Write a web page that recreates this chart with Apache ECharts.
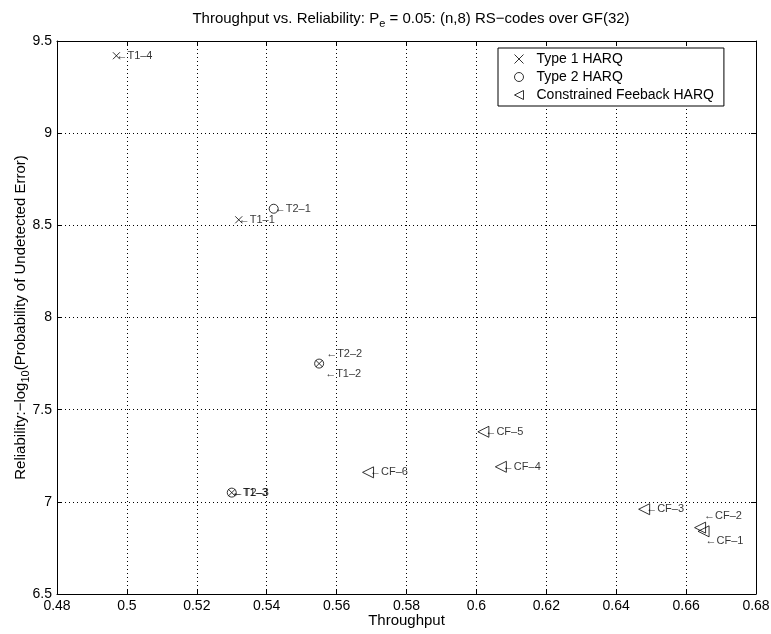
<!DOCTYPE html>
<html>
<head>
<meta charset="utf-8">
<script src="https://cdn.jsdelivr.net/npm/echarts@6/dist/echarts.min.js"></script>
<style>
  html, body { margin: 0; padding: 0; background: #fff; }
  #chart { width: 771px; height: 634px; }
</style>
</head>
<body>
<div id="chart"></div>
<script>
// values
var type1Names = ["T1-4", "T1-1", "T1-2", "T1-3"];
var type1X = [0.497, 0.532, 0.555, 0.530];
var type1Y = [9.42, 8.53, 7.75, 7.05];

var type2Names = ["T2-1", "T2-2", "T2-3"];
var type2X = [0.542, 0.555, 0.530];
var type2Y = [8.59, 7.75, 7.05];

var cfNames = ["CF-1", "CF-2", "CF-3", "CF-4", "CF-5", "CF-6"];
var cfX = [0.665, 0.664, 0.648, 0.607, 0.602, 0.569];
var cfY = [6.84, 6.86, 6.96, 7.19, 7.38, 7.16];

var xTicks = { min: 0.48, max: 0.68, step: 0.02 };
var yTicks = { min: 6.5, max: 9.5, step: 0.5 };

// labels that are pushed away from their marker
var labelOffsets = {
    "T1-2": [6, 10],
    "T2-2": [6, -10],
    "CF-1": [0, 10],
    "CF-2": [2, -12]
};

var FONT = "Liberation Sans";
var CROSS = "path://M0,0L10,10M10,0L0,10";
var LEFT_TRI = "path://M0,5L10,0L10,10Z";

function buildPoints(names, xs, ys) {
    return names.map(function(n, i) {
        var p = { name: n, value: [xs[i], ys[i]] };
        if (labelOffsets[n]) {
            p.label = { offset: labelOffsets[n] };
        }
        return p;
    });
}

function pointLabel() {
    return {
        show: true,
        position: "right",
        distance: -6,
        fontFamily: FONT,
        fontSize: 11,
        color: "#000",
        formatter: function(p) {
            return "\u2190" + p.name.replace(/-/g, "\u2013");
        }
    };
}

function scatter(name, symbol, size, points) {
    return {
        name: name,
        type: "scatter",
        symbol: symbol,
        symbolSize: size,
        itemStyle: {
            color: "none",
            borderColor: "#000",
            borderWidth: 1
        },
        label: pointLabel(),
        emphasis: { disabled: true },
        animation: false,
        data: points
    };
}

var chart = echarts.init(document.getElementById("chart"));

var axisCommon = {
    axisLine: { show: true, onZero: false, lineStyle: { color: "#000", width: 1 } },
    axisTick: { show: true, inside: true, length: 5, lineStyle: { color: "#000" } },
    axisLabel: { fontFamily: FONT, fontSize: 14, color: "#000" }
};

var gridLine = { show: true, lineStyle: { color: "#000", type: [1, 3], width: 1 } };

var legendIcon = { color: "none", borderColor: "#000", borderWidth: 1 };

chart.setOption({
    backgroundColor: "#fff",
    title: {
        text: "Throughput vs. Reliability: P{sub|e} = 0.05: (n,8) RS\u2212codes over GF(32)",
        left: 406,
        textAlign: "center",
        top: 3,
        textStyle: {
            fontFamily: FONT,
            fontSize: 15,
            fontWeight: "normal",
            color: "#000",
            rich: {
                sub: { fontFamily: FONT, fontSize: 11, verticalAlign: "bottom", padding: [10, 0, 0, 0] }
            }
        }
    },
    grid: { left: 57, right: 15, top: 41, bottom: 40, outerBoundsMode: "none", containLabel: false },
    legend: {
        orient: "vertical",
        left: 498,
        top: 48,
        padding: [4, 10, 4, 14],
        itemGap: 4,
        itemWidth: 9,
        itemHeight: 9,
        borderColor: "#000",
        borderWidth: 1,
        backgroundColor: "#fff",
        selectedMode: false,
        itemStyle: legendIcon,
        textStyle: { fontFamily: FONT, fontSize: 14, color: "#000", padding: [0, 0, 0, 8] },
        data: [
            { name: "Type 1 HARQ", icon: CROSS, itemStyle: legendIcon },
            { name: "Type 2 HARQ", icon: "circle", itemStyle: legendIcon },
            { name: "Constrained Feeback HARQ", icon: LEFT_TRI, itemStyle: legendIcon }
        ]
    },
    xAxis: [
        Object.assign({}, axisCommon, {
            type: "value",
            min: xTicks.min,
            max: xTicks.max,
            interval: xTicks.step,
            name: "Throughput",
            nameLocation: "middle",
            nameGap: 19,
            nameMoveOverlap: false,
            nameTextStyle: { fontFamily: FONT, fontSize: 15, color: "#000" },
            axisLabel: { fontFamily: FONT, fontSize: 14, color: "#000", margin: 5 },
            splitLine: gridLine
        }),
        Object.assign({}, axisCommon, {
            type: "value",
            position: "top",
            min: xTicks.min,
            max: xTicks.max,
            interval: xTicks.step,
            axisLabel: { show: false },
            splitLine: { show: false }
        })
    ],
    yAxis: [
        Object.assign({}, axisCommon, {
            type: "value",
            min: yTicks.min,
            max: yTicks.max,
            interval: yTicks.step,
            name: "Reliability:\u2212log{sub|10}(Probability of Undetected Error)",
            nameLocation: "middle",
            nameGap: 26,
            nameMoveOverlap: false,
            nameRotate: 90,
            nameTextStyle: {
                fontFamily: FONT,
                fontSize: 15,
                color: "#000",
                rich: {
                    sub: { fontFamily: FONT, fontSize: 11, verticalAlign: "bottom", padding: [10, 0, 0, 0] }
                }
            },
            axisLabel: { fontFamily: FONT, fontSize: 14, color: "#000", margin: 5 },
            splitLine: gridLine
        }),
        Object.assign({}, axisCommon, {
            type: "value",
            position: "right",
            min: yTicks.min,
            max: yTicks.max,
            interval: yTicks.step,
            axisLabel: { show: false },
            splitLine: { show: false }
        })
    ],
    series: [
        scatter("Type 1 HARQ", CROSS, 7, buildPoints(type1Names, type1X, type1Y)),
        scatter("Type 2 HARQ", "circle", 9, buildPoints(type2Names, type2X, type2Y)),
        scatter("Constrained Feeback HARQ", LEFT_TRI, 11, buildPoints(cfNames, cfX, cfY))
    ]
});
</script>
</body>
</html>
